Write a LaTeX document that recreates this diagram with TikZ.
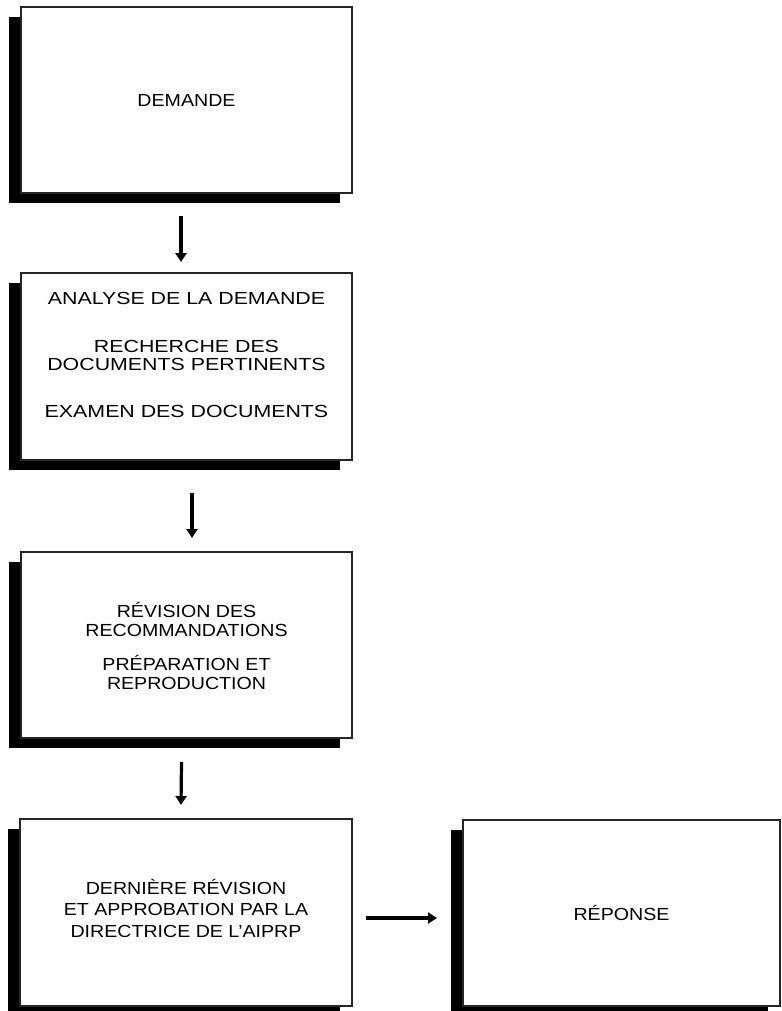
\documentclass[tikz,border=0pt]{standalone}
\usepackage{fontspec}
\setmainfont[FakeStretch=1.12]{Liberation Sans}
\newfontfamily\widefont[FakeStretch=1.22]{Liberation Sans}
\usetikzlibrary{shadows,arrows.meta}
\newcommand\boxtext[2]{\raisebox{#1}[\height][\depth]{\begin{tabular}{@{}c@{}}#2\end{tabular}}}
\begin{document}
\begin{tikzpicture}[x=1pt,y=-1pt,
  stepbox/.style={draw=black!85, line width=1.3pt, fill=white, inner sep=0pt, outer sep=0pt,
    drop shadow={shadow xshift=-12pt, shadow yshift=-10pt, fill=black, opacity=1},
    font=\fontsize{17.5}{21.5}\selectfont},
  flow/.style={line width=3.2pt, -{Triangle[length=9pt,width=11pt]}}]
\useasboundingbox (0,0) rectangle (781,1011);

\node[stepbox, minimum width=331pt, minimum height=186pt] (b1) at (186.5,100) {DEMANDE};

\node[stepbox, minimum width=331pt, minimum height=187pt,
  font=\widefont\fontsize{17.5}{18}\selectfont] (b2) at (186.5,366.5)
  {\boxtext{9.5pt}{ANALYSE DE LA DEMANDE\\[30pt] RECHERCHE DES\\ DOCUMENTS PERTINENTS\\[29pt] EXAMEN DES DOCUMENTS}};

\node[stepbox, minimum width=331pt, minimum height=186pt,
  font=\fontsize{17.5}{19}\selectfont] (b3) at (186.5,645)
  {\boxtext{-4pt}{RÉVISION DES\\ RECOMMANDATIONS\\[13pt] PRÉPARATION ET\\ REPRODUCTION}};

\node[stepbox, minimum width=332pt, minimum height=187pt,
  font=\fontsize{17.5}{21.5}\selectfont] (b4) at (186,912.5)
  {\boxtext{1pt}{DERNIÈRE RÉVISION\\ ET APPROBATION PAR LA\\ DIRECTRICE DE L’AIPRP}};

\node[stepbox, minimum width=317pt, minimum height=186pt] (b5) at (621.5,913) {RÉPONSE};

\draw[flow] ([xshift=-5.5pt,yshift=-23pt]b1.south) -- ([xshift=-5.5pt,yshift=11pt]b2.north);
\draw[flow] ([xshift=5.5pt,yshift=-33pt]b2.south) -- ([xshift=5.5pt,yshift=14pt]b3.north);
\draw[flow] ([xshift=-5pt,yshift=-24pt]b3.south) -- ([xshift=-5pt,yshift=14pt]b4.north);
\coordinate (a4s) at ([xshift=14pt,yshift=-5.5pt]b4.east);
\draw[flow, shorten >=26pt] (a4s) -- (a4s -| b5.west);
\end{tikzpicture}
\end{document}
